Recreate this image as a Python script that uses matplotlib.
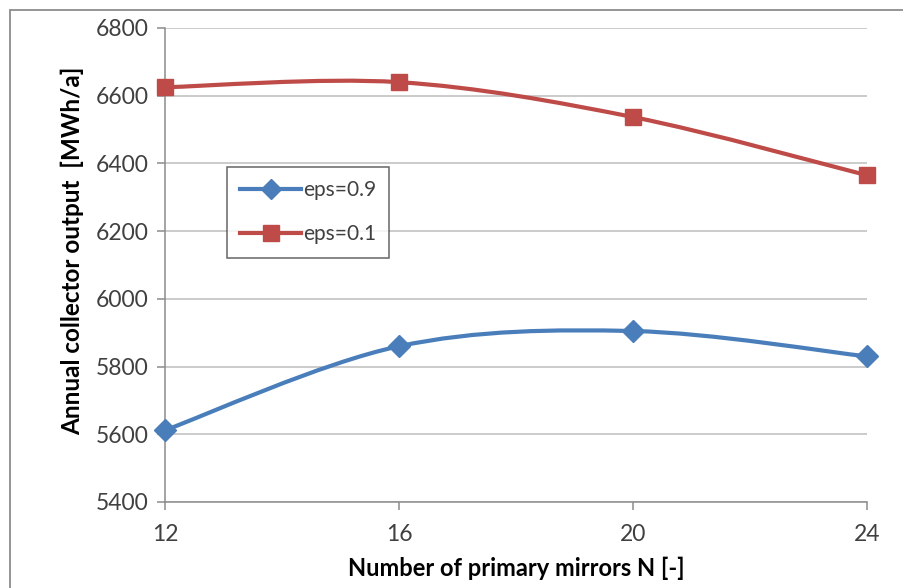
import numpy as np
import matplotlib.pyplot as plt
from matplotlib.path import Path
from matplotlib.patches import PathPatch, Rectangle
from matplotlib.lines import Line2D

plt.rcParams['font.family'] = ['Lato', 'DejaVu Sans']

mirrors = [12, 16, 20, 24]
eps09 = [5612, 5860, 5905, 5830]
eps01 = [6625, 6640, 6537, 6365]
yticks = [5400, 5600, 5800, 6000, 6200, 6400, 6600, 6800]

blue = '#4A7EBB'
red = '#BE4B48'


def smooth_path(xs, ys):
    # Excel-like smoothed line: Catmull-Rom converted to cubic Bezier
    p = np.column_stack([xs, ys]).astype(float)
    ext = np.vstack([p[0], p, p[-1]])
    verts = [p[0]]
    codes = [Path.MOVETO]
    for i in range(len(p) - 1):
        p0, p1, p2, p3 = ext[i], ext[i + 1], ext[i + 2], ext[i + 3]
        verts += [p1 + (p2 - p0) / 6, p2 - (p3 - p1) / 6, p2]
        codes += [Path.CURVE4] * 3
    return Path(verts, codes)


fig = plt.figure(figsize=(9.04, 5.88), dpi=100)
ax = fig.add_axes([165 / 904, 86 / 588, 702 / 904, 474 / 588])

# outer chart frame (cut off at right/bottom)
fig.patches.append(Rectangle((10 / 904, -0.1), 1.2, 1.1 - 10 / 588,
                             transform=fig.transFigure, fill=False,
                             edgecolor='#8C8C8C', linewidth=1.3))

for ys, col, mk, ms in [(eps09, blue, 'D', 11), (eps01, red, 's', 12)]:
    ax.add_patch(PathPatch(smooth_path(mirrors, ys), facecolor='none',
                           edgecolor=col, linewidth=3, zorder=3,
                           capstyle='round', joinstyle='round'))
    ax.plot(mirrors, ys, linestyle='none', marker=mk, markersize=ms,
            color=col, zorder=4, clip_on=False)

ax.set_xlim(12, 24)
ax.set_ylim(5400, 6800)
ax.set_xticks(mirrors)
ax.set_yticks(yticks)
ax.grid(axis='y', color='#BDBDBD', linewidth=1.1)
ax.set_axisbelow(True)

for s in ['top', 'right']:
    ax.spines[s].set_visible(False)
for s in ['left', 'bottom']:
    ax.spines[s].set_color('#8C8C8C')
    ax.spines[s].set_linewidth(1.1)

ax.tick_params(axis='both', direction='out', length=6, width=1.1,
               color='#8C8C8C', labelsize=16.5, labelcolor='#404040')
ax.tick_params(axis='x', pad=10)
ax.tick_params(axis='y', pad=6)

ax.set_xlabel('Number of primary mirrors N [-]', fontsize=17,
              fontweight='bold', labelpad=8)
ax.set_ylabel('Annual collector output  [MWh/a]', fontsize=17.5,
              fontweight='bold')
ax.yaxis.set_label_coords(-0.115, 0.53)

handles = [Line2D([], [], color=blue, linewidth=3, marker='D', markersize=10),
           Line2D([], [], color=red, linewidth=3, marker='s', markersize=11)]
leg = ax.legend(handles, ['eps=0.9', 'eps=0.1'], loc='upper left',
                bbox_to_anchor=(0.088, 0.707), borderaxespad=0,
                fontsize=15, frameon=True, fancybox=False,
                edgecolor='#404040', handlelength=2.9, handletextpad=0.1,
                labelspacing=1.15, borderpad=0.65)
leg.get_frame().set_linewidth(1.1)
for t in leg.get_texts():
    t.set_color('#404040')

fig.savefig('out.png', dpi=100)
